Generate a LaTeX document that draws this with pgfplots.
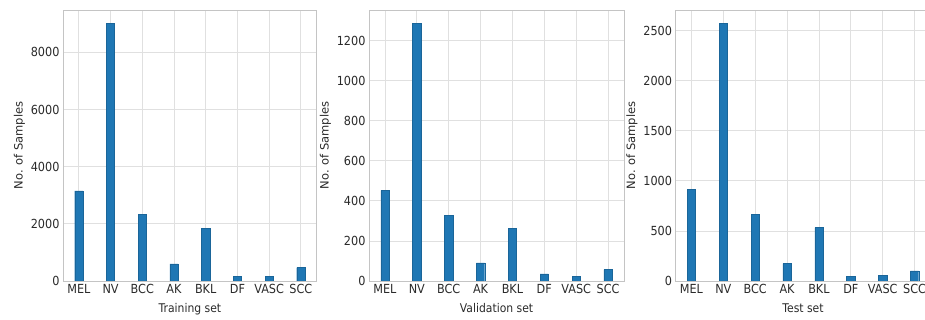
\documentclass[border=0pt]{standalone}
\usepackage{fontspec}
\setmainfont{DejaVu Sans}[FakeStretch=0.9]
\newfontfamily\ylabfont{DejaVu Sans}
\usepackage{pgfplots}
\pgfplotsset{compat=1.18}
\definecolor{barblue}{HTML}{1F77B4}
\definecolor{gridgray}{HTML}{E0E0E0}
\definecolor{spinegray}{HTML}{C4C4C4}
\definecolor{txt}{HTML}{2A2A2A}
\pgfplotsset{
 panel/.style={
  scale only axis, width=255pt, height=271pt,
  xmin=-0.5, xmax=7.5, ymin=0,
  xtick={0,...,7}, xticklabels={MEL,NV,BCC,AK,BKL,DF,VASC,SCC},
  grid=major, major grid style={gridgray, line width=0.8pt},
  axis line style={spinegray, line width=0.9pt},
  major tick length=0pt,
  tick label style={font=\fontsize{12.5}{14}\selectfont, text=txt},
  label style={font=\fontsize{12}{14}\selectfont, text=txt},
  xlabel style={yshift=-2.5pt},
  ylabel style={font=\ylabfont\fontsize{11.5}{13}\selectfont, text=txt, yshift=-1pt},
  /pgf/number format/assume math mode=true,
  /pgf/number format/1000 sep={},
  ylabel={No. of Samples},
  ybar, bar width=0.26,
  anchor=south west,
 },
 bars/.style={fill=barblue, draw=barblue!85!black, line width=0.4pt},
}
\begin{document}
\begin{tikzpicture}
\begin{axis}[panel, at={(63pt,39pt)}, width=253.7pt, ymax=9480, ytick={0,2000,4000,6000,8000}, xlabel={Training set}]
\addplot[bars] coordinates {(0,3150) (1,9013) (2,2340) (3,600) (4,1840) (5,170) (6,170) (7,470)};
\end{axis}
\begin{axis}[panel, at={(369pt,39pt)}, ymax=1353, ytick={0,200,400,600,800,1000,1200}, xlabel={Validation set}]
\addplot[bars] coordinates {(0,452) (1,1287) (2,326) (3,90) (4,264) (5,35) (6,22) (7,57)};
\end{axis}
\begin{axis}[panel, at={(675.5pt,39pt)}, ymax=2707, ytick={0,500,1000,1500,2000,2500}, xlabel={Test set}]
\addplot[bars] coordinates {(0,914) (1,2574) (2,664) (3,174) (4,534) (5,47) (6,57) (7,100)};
\end{axis}
\pgfresetboundingbox
\useasboundingbox (0pt,0pt) rectangle (925pt,320pt);
\end{tikzpicture}
\end{document}
